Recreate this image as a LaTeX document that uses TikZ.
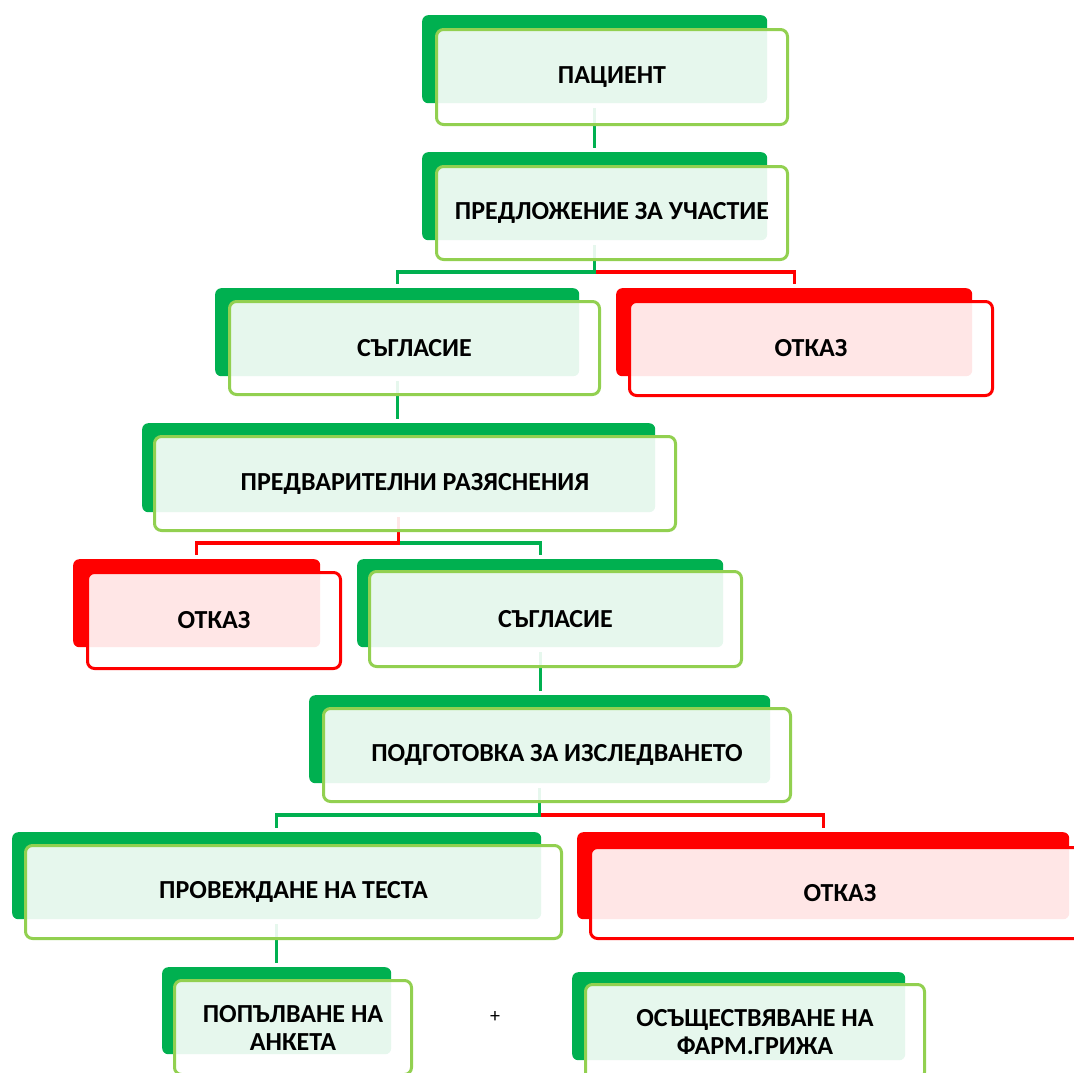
\documentclass[tikz,border=0pt]{standalone}
\usepackage{fontspec}
\setmainfont{Carlito}
\usetikzlibrary{calc}
\definecolor{dgreen}{HTML}{00B050}
\definecolor{lgreen}{HTML}{92D050}
\definecolor{dred}{HTML}{FF0000}
\tikzset{
  back/.style={rounded corners=6pt, inner sep=0pt, anchor=north west, draw=none},
  gback/.style={back, fill=dgreen},
  rback/.style={back, fill=dred},
  front/.style={line width=3pt, fill=white, fill opacity=0.9, text opacity=1,
    rounded corners=7pt, inner sep=0pt, anchor=north west, align=center,
    font=\fontsize{26}{28}\selectfont\bfseries},
  gfront/.style={front, draw=lgreen},
  rfront/.style={front, draw=dred},
  gline/.style={draw=dgreen, line width=3.3pt},
  rline/.style={draw=dred, line width=3.3pt},
}
\newcommand{\bx}[7]{% name, style, x1,y1,x2,y2, text
  \node[#2, minimum width={#5-#3}, minimum height={#6-#4}] (#1) at (#3,#4) {#7};}
\begin{document}
\begin{tikzpicture}[x=1pt,y=-1pt]
\useasboundingbox (0,0) rectangle (1074,1072);
\clip (0,0) rectangle (1074,1072);
% back boxes
\bx{b1}{gback}{422}{15}{767}{103}{}
\bx{b2}{gback}{422}{152}{767}{240}{}
\bx{b3}{gback}{215}{288}{579}{376}{}
\bx{b4}{rback}{616}{288}{972}{376}{}
\bx{b5}{gback}{142}{423}{655}{512}{}
\bx{b6}{rback}{73}{559}{320}{647}{}
\bx{b7}{gback}{357}{559}{723}{647}{}
\bx{b8}{gback}{309}{695}{770}{783}{}
\bx{b9}{gback}{12}{832}{541}{919}{}
\bx{b10}{rback}{577}{832}{1069}{919}{}
\bx{b11}{gback}{162}{967}{391}{1054}{}
\bx{b12}{gback}{572}{972}{905}{1060}{}
% connectors
\draw[gline] ($(b1.south)+(0,5)$) -- ($(b1.south |- b2.north)+(0,-4)$);
\draw[rline] ($(b2.south)+(0,5)$) |- ($(b4.north)+(0,-16)$) -- ($(b4.north)+(0,-4)$);
\draw[gline] ($(b2.south)+(0,5)$) |- ($(b3.north)+(0,-16)$) -- ($(b3.north)+(0,-4)$);
\draw[gline] ($(b3.south)+(0,5)$) -- ($(b3.south |- b5.north)+(0,-4)$);
\draw[gline] ($(b5.south)+(0,5)$) |- ($(b7.north)+(0,-16)$) -- ($(b7.north)+(0,-4)$);
\draw[rline] ($(b5.south)+(0,5)$) |- ($(b6.north)+(0,-16)$) -- ($(b6.north)+(0,-4)$);
\draw[gline] ($(b7.south)+(0,5)$) -- ($(b7.south |- b8.north)+(0,-4)$);
\draw[rline] ($(b8.south)+(0,5)$) |- ($(b10.north)+(0,-17)$) -- ($(b10.north)+(0,-4)$);
\draw[gline] ($(b8.south)+(0,5)$) |- ($(b9.north)+(0,-17)$) -- ($(b9.north)+(0,-4)$);
\draw[gline] ($(b9.south)+(0,5)$) -- ($(b9.south |- b11.north)+(0,-4)$);
% front boxes
\bx{f1}{gfront}{435}{28}{786}{123}{ПАЦИЕНТ}
\bx{f2}{gfront}{435}{165}{786}{258}{ПРЕДЛОЖЕНИЕ ЗА УЧАСТИЕ}
\bx{f3}{gfront}{228}{300}{598}{393}{СЪГЛАСИЕ}
\bx{f4}{rfront}{628}{300}{991}{394}{ОТКАЗ}
\bx{f5}{gfront}{153}{435}{674}{529}{ПРЕДВАРИТЕЛНИ РАЗЯСНЕНИЯ}
\bx{f6}{rfront}{86}{571}{339}{667}{ОТКАЗ}
\bx{f7}{gfront}{368}{570}{740}{665}{СЪГЛАСИЕ}
\bx{f8}{gfront}{322}{707}{789}{800}{ПОДГОТОВКА ЗА ИЗСЛЕДВАНЕТО}
\bx{f9}{gfront}{24}{844}{560}{937}{ПРОВЕЖДАНЕ НА ТЕСТА}
\bx{f10}{rfront}{589}{846}{1088}{937}{ОТКАЗ}
\bx{f11}{gfront}{173}{979}{410}{1073}{ПОПЪЛВАНЕ НА\\АНКЕТА}
\bx{f12}{gfront}{584}{983}{923}{1078}{ОСЪЩЕСТВЯВАНЕ НА\\ФАРМ.ГРИЖА}
\node[font=\fontsize{20}{22}\selectfont] (plus) at (495,1017) {+};
\end{tikzpicture}
\end{document}
